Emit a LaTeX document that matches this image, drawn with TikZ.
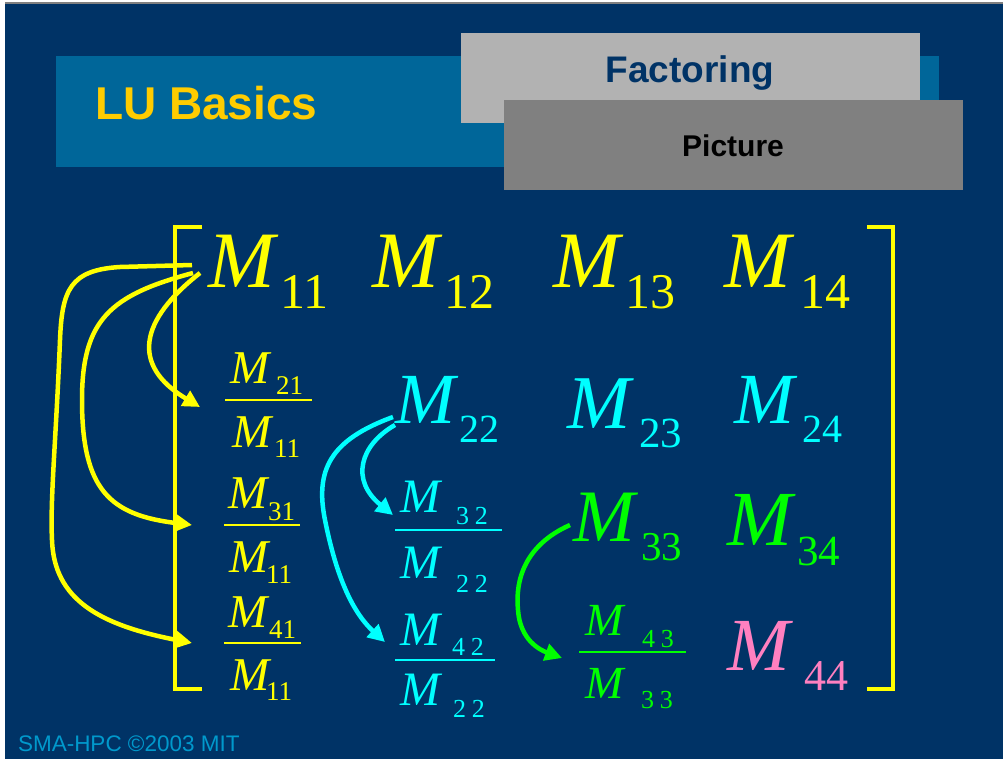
\documentclass[tikz,border=0pt]{standalone}
\usepackage{fontspec}
\setmainfont{Liberation Serif}
\newfontfamily\sansf{Liberation Sans}
\usetikzlibrary{arrows.meta}
\definecolor{bg}{HTML}{003366}
\definecolor{bar}{HTML}{006699}
\definecolor{lgray}{HTML}{B2B2B2}
\definecolor{dgray}{HTML}{808080}
\definecolor{ttl}{HTML}{FFCC00}
\definecolor{foot}{HTML}{0099CC}
\definecolor{yel}{HTML}{FFFF00}
\definecolor{cya}{HTML}{00FFFF}
\definecolor{grn}{HTML}{00FF00}
\definecolor{pnk}{HTML}{FF80C0}
\tikzset{
  every node/.style={inner sep=0pt, outer sep=0pt, anchor=base west},
  mfont/.style={font={\fontsize{#1}{#1}\selectfont\itshape}},
  dfont/.style={font={\fontsize{#1}{#1}\selectfont}},
  arr/.style={line width=4.5pt, -{Triangle[length=17pt,width=17pt]}},
  brk/.style={line width=4pt, yel},
  fline/.style={line width=2pt},
}
\begin{document}
\begin{tikzpicture}[x=1pt,y=-1pt]
\useasboundingbox (0,0) rectangle (1003,759);
\fill[white] (0,0) rectangle (1003,759);
\fill[bg] (5,4) rectangle (1003,759);
\fill[gray] (5,2.5) rectangle (1003,4);
% title area
\fill[bar] (56,56) rectangle (939,167);
\fill[lgray] (461,33) rectangle (920,123);
\fill[dgray] (504,100) rectangle (963,190);
\node[font={\sansf\bfseries\fontsize{46}{46}\selectfont}, text=ttl] (title) at (95,120) {LU Basics};
\node[font={\sansf\bfseries\fontsize{37}{37}\selectfont}, text=bg, anchor=base] (fact) at (690,83) {Factoring};
\node[font={\sansf\bfseries\fontsize{30}{30}\selectfont}, text=black, anchor=base] (pic) at (733,157) {Picture};
\node[font={\sansf\fontsize{22.5}{22.5}\selectfont}, text=foot] (footer) at (18,751) {SMA-HPC ©2003 MIT};
% brackets
\draw[brk] (202,227) -- (175,227) -- (175,689) -- (202,689);
\draw[brk] (867,227) -- (893,227) -- (893,689) -- (867,689);
% row 1
\node[mfont=80, text=yel] (m11) at (208,287) {M};
\node[dfont=50, text=yel] (m11s) at (280.5,308) {11};
\node[mfont=80, text=yel] (m12) at (372,287) {M};
\node[dfont=50, text=yel] (m12s) at (444.5,308) {12};
\node[mfont=80, text=yel] (m13) at (553,287) {M};
\node[dfont=50, text=yel] (m13s) at (625.5,308) {13};
\node[mfont=80, text=yel] (m14) at (724,287) {M};
\node[dfont=50, text=yel] (m14s) at (800.5,308) {14};
% row 2
\node[mfont=72, text=cya] (m22) at (395,423) {M};
\node[dfont=40, text=cya] (m22s) at (459,442) {22};
\node[mfont=76, text=cya] (m23) at (567,428) {M};
\node[dfont=43, text=cya] (m23s) at (639,447) {23};
\node[mfont=72, text=cya] (m24) at (734,423) {M};
\node[dfont=40, text=cya] (m24s) at (802,442) {24};
% row 3
\node[mfont=74, text=grn] (m33) at (573,541) {M};
\node[dfont=41, text=grn] (m33s) at (641,560) {33};
\node[mfont=78, text=grn] (m34) at (727,545) {M};
\node[dfont=43, text=grn] (m34s) at (797,565) {34};
% row 4
\node[mfont=75, text=pnk] (m44) at (727,670) {M};
\node[dfont=44, text=pnk] (m44s) at (804.5,690) {44};
% column 1 fractions
\node[mfont=47, text=yel] (f21n) at (230,383) {M};
\node[dfont=27, text=yel] (f21ns) at (276,394) {21};
\coordinate (f21) at (225,400);
\draw[fline, yel] (f21) -- ++(87,0);
\node[mfont=47, text=yel] (f21d) at (232,447) {M};
\node[dfont=27, text=yel] (f21ds) at (274,457) {11};
\node[mfont=47, text=yel] (f31n) at (228,508) {M};
\node[dfont=27, text=yel] (f31ns) at (268,520) {31};
\coordinate (f31) at (224,525);
\draw[fline, yel] (f31) -- ++(76,0);
\node[mfont=47, text=yel] (f31d) at (229,572) {M};
\node[dfont=27, text=yel] (f31ds) at (266,583) {11};
\node[mfont=47, text=yel] (f41n) at (228,627) {M};
\node[dfont=27, text=yel] (f41ns) at (269,638) {41};
\coordinate (f41) at (224,643);
\draw[fline, yel] (f41) -- ++(77,0);
\node[mfont=47, text=yel] (f41d) at (230,690) {M};
\node[dfont=27, text=yel] (f41ds) at (266,700) {11};
% column 2 fractions
\node[mfont=48, text=cya] (f32n) at (400,512) {M};
\node[dfont=26, text=cya] (f32ns) at (456,524) {3\hspace{6pt}2};
\coordinate (f32) at (395,530);
\draw[fline, cya] (f32) -- ++(107,0);
\node[mfont=48, text=cya] (f32d) at (400,578) {M};
\node[dfont=26, text=cya] (f32ds) at (456,592) {2\hspace{6pt}2};
\node[mfont=48, text=cya] (f42n) at (400,645) {M};
\node[dfont=26, text=cya] (f42ns) at (452,655) {4\hspace{6pt}2};
\coordinate (f42) at (395,660);
\draw[fline, cya] (f42) -- ++(100,0);
\node[mfont=48, text=cya] (f42d) at (400,705) {M};
\node[dfont=26, text=cya] (f42ds) at (453,717) {2\hspace{6pt}2};
% column 3 fraction
\node[mfont=46, text=grn] (f43n) at (585,635) {M};
\node[dfont=26, text=grn] (f43ns) at (642,647) {4\hspace{6pt}3};
\coordinate (f43) at (579,652);
\draw[fline, grn] (f43) -- ++(107,0);
\node[mfont=46, text=grn] (f43d) at (585,698) {M};
\node[dfont=26, text=grn] (f43ds) at (641,708) {3\hspace{6pt}3};
% yellow arrows
\draw[arr, yel] ([shift={(-8,-14)}]m11.base west) .. controls (140,320) and (130,365) .. ([shift={(-25,7)}]f21);
\draw[arr, yel] ([shift={(-15,-14)}]m11.base west) .. controls (110,295) and (82,320) .. (82,400) .. controls (82,490) and (110,515) .. ([shift={(-32,0)}]f31);
\draw[arr, yel] ([shift={(-16,-22)}]m11.base west) -- (120,267) .. controls (70,270) and (62,290) .. (60,340) .. controls (56,440) and (50,500) .. (52,540) .. controls (54,600) and (100,625) .. ([shift={(-32,0)}]f41);
% cyan arrows
\draw[arr, cya] ([shift={(0,2)}]m22.base west) .. controls (360,445) and (350,480) .. ([shift={(-2,-15)}]f32);
\draw[arr, cya] ([shift={(-2,-6)}]m22.base west) .. controls (330,440) and (315,470) .. (325,520) .. controls (335,570) and (350,610) .. ([shift={(-10,-18)}]f42);
% green arrow
\draw[arr, grn] ([shift={(-3,-16)}]m33.base west) .. controls (525,545) and (515,580) .. (518,610) .. controls (520,640) and (540,650) .. ([shift={(-17,6)}]f43);
\end{tikzpicture}
\end{document}
